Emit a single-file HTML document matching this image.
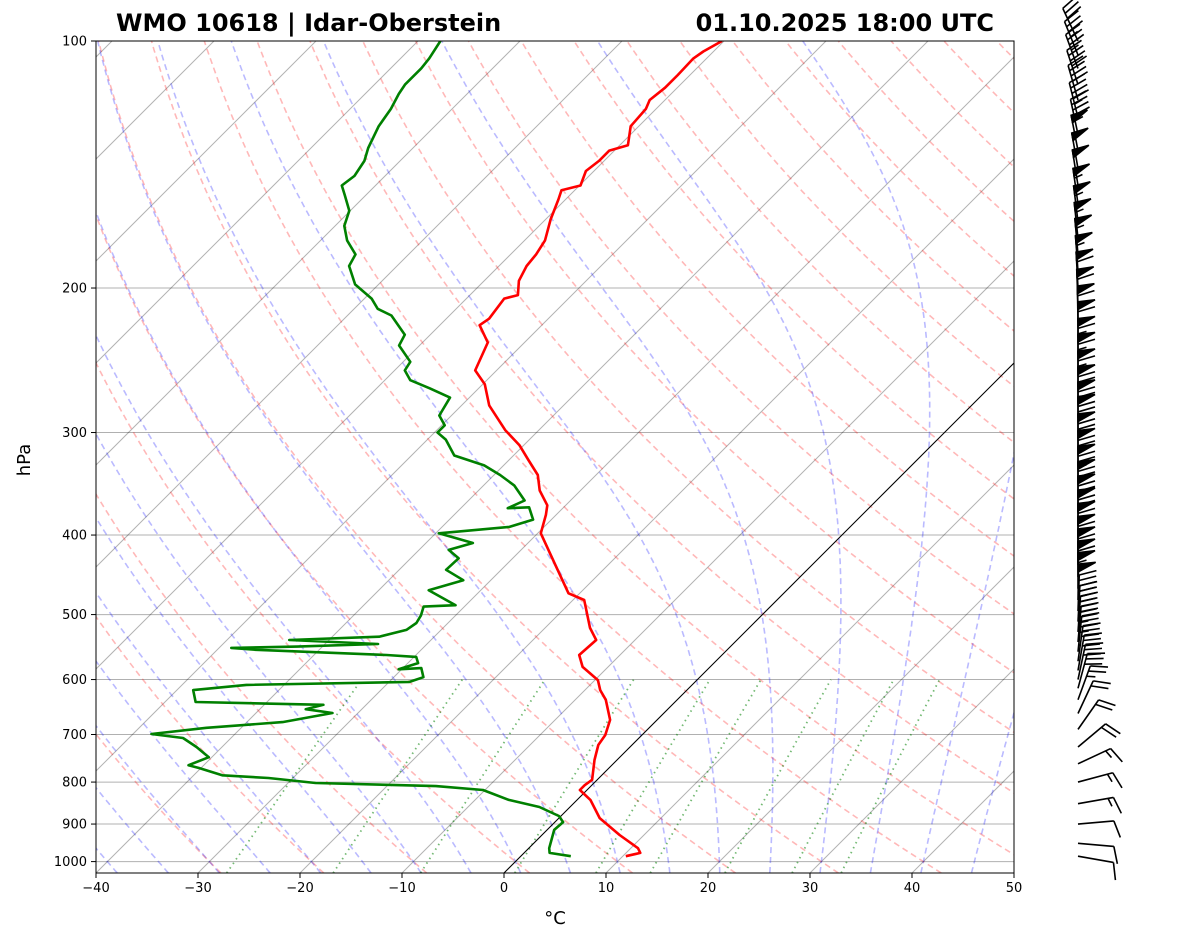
<!DOCTYPE html>
<html><head><meta charset="utf-8">
<style>
html,body{margin:0;padding:0;background:#fff;}
svg{display:block;font-family:"DejaVu Sans","Liberation Sans",sans-serif;}
</style></head>
<body>
<svg id="chart" width="1181" height="941" viewBox="0 0 1181 941" xmlns="http://www.w3.org/2000/svg">
<defs><clipPath id="plotclip"><rect x="96" y="41" width="918" height="832"/></clipPath></defs>
<rect width="1181" height="941" fill="#fff"/>
<text x="116" y="31" font-size="24" font-weight="bold">WMO 10618 | Idar-Oberstein</text>
<text x="994" y="31" font-size="24" font-weight="bold" text-anchor="end">01.10.2025 18:00 UTC</text>
<g id="bg" clip-path="url(#plotclip)"></g>
<g id="series" clip-path="url(#plotclip)"></g>
<rect x="96" y="41" width="918" height="832" fill="none" stroke="#000" stroke-width="1"/>
<g id="axes"></g>
<g id="barbs"></g>
<text x="0" y="0" font-size="18" text-anchor="middle" transform="translate(30,460) rotate(-90)">hPa</text>
<text x="555" y="924" font-size="18" text-anchor="middle">°C</text>
</svg>
<script>
const tempP=[985,976,963,928,885,841,818,807,795,752,721,701,672,635,618,601,579,560,537,519,480,471,433,398,378,368,353,338,324,311,298,278,262,252,233,222,218,206,204,196,188,182,175,165,156,152,150,144,140,136,134,127,121,118,114,110,105,103,100];
const tempT=[10.3,11.4,10.7,7.6,4.0,1.3,-0.7,-0.7,-0.5,-2.2,-3.3,-3.6,-4.6,-7.0,-8.5,-9.7,-12.5,-14.0,-13.8,-15.6,-18.9,-21.1,-25.4,-29.7,-31.0,-31.8,-34.0,-35.7,-38.1,-40.4,-43.3,-47.3,-49.8,-52.1,-53.6,-56.1,-55.8,-56.3,-55.3,-56.6,-57.3,-57.5,-58.0,-59.5,-60.7,-61.3,-59.9,-60.8,-60.5,-60.5,-59.2,-60.8,-61.0,-61.5,-61.2,-61.2,-61.3,-61.0,-60.2];
const dewP=[985,976,963,915,895,880,858,841,818,809,802,791,785,769,763,746,725,707,699,687,676,659,652,644,639,618,609,604,596,581,583,573,563,560,552,549,547,543,537,532,522,512,501,489,487,467,454,441,427,417,409,398,391,383,370,371,363,348,338,329,320,306,300,294,286,272,265,259,252,246,235,228,216,212,206,198,188,182,175,168,161,154,150,146,140,135,127,121,116,113,108,105,100];
const dewT=[4.9,2.5,2.0,0.7,0.8,-0.2,-3.0,-6.7,-10.2,-15.2,-27.3,-32.4,-37.2,-40.2,-41.5,-40.3,-42.5,-44.7,-48.2,-43.4,-36.5,-32.5,-35.5,-34.2,-47.0,-48.4,-43.7,-28.0,-27.1,-28.2,-30.3,-29.0,-29.8,-32.9,-46.2,-48.8,-42.5,-34.8,-43.9,-35.4,-33.4,-33.1,-33.4,-34.0,-31.0,-35.1,-32.7,-35.4,-35.3,-37.1,-35.4,-39.7,-33.4,-31.8,-33.4,-35.4,-34.5,-37.0,-39.4,-41.9,-45.8,-48.2,-49.7,-49.7,-51.2,-51.9,-54.8,-57.5,-59.0,-59.3,-62.0,-62.5,-65.7,-67.7,-69.3,-72.3,-74.7,-75.2,-77.4,-79.1,-80.1,-82.1,-83.3,-83.0,-83.5,-84.4,-85.5,-86.0,-86.7,-87.0,-87.0,-87.2,-87.8];
const pressureTicks=[100,200,300,400,500,600,700,800,900,1000];
const tempTicks=[-40,-30,-20,-10,0,10,20,30,40,50];
const isotherms=[-130,-120,-110,-100,-90,-80,-70,-60,-50,-40,-30,-20,-10,0,10,20,30,40,50];
const dryThetaK=[243.15,253.15,263.15,273.15,283.15,293.15,303.15,313.15,323.15,333.15,343.15,353.15,363.15,373.15,383.15,393.15,403.15,413.15,423.15,433.15,443.15,453.15,463.15];
const moistT0=[-50,-45,-40,-35,-30,-25,-20,-15,-10,-5,0,5,10,15,20,25,30,35,40,45];
const mixRatios=[0.0004,0.001,0.002,0.004,0.007,0.01,0.016,0.024,0.032];
const windP=[985,950,900,850,800,760,725,690,660,635,615,600,585,570,555,540,525,510,495,480,465,450,435,420,405,390,375,360,345,330,315,300,288,276,264,252,241,230,220,210,200,191,182,174,166,158,150,143,136,130,124,118,113,108,104,100];
const windSpd=[8,10,12,15,15,15,18,20,22,25,28,30,30,32,35,35,40,40,45,50,55,60,60,65,65,70,70,70,75,75,75,70,70,70,65,65,65,60,60,60,60,55,55,55,55,55,50,50,50,45,45,40,40,35,35,30];
const windDir=[100,95,85,80,75,65,50,35,25,20,15,12,10,8,6,5,4,3,2,1,0,0,0,0,0,0,0,0,0,0,0,0,0,0,0,0,0,0,359,358,357,356,355,354,353,352,351,350,349,348,346,344,342,340,338,335];

const NS='http://www.w3.org/2000/svg';
const Y0=41,YB=873,X0=96,XR=1014,PXD=820.6,PXT=10.2;
function yOf(p){return Y0+PXD*Math.log10(p/100);}
function xOf(T,p){return X0+(T+40)*PXT+(YB-yOf(p));}
const pBot=100*Math.pow(10,(YB-Y0)/PXD);
function mk(tag,attrs,parent){const e=document.createElementNS(NS,tag);for(const k in attrs)e.setAttribute(k,attrs[k]);parent.appendChild(e);return e;}
function pathFrom(ps,ts){let d='';for(let i=0;i<ps.length;i++){d+=(i?'L':'M')+xOf(ts[i],ps[i]).toFixed(1)+','+yOf(ps[i]).toFixed(1);}return d;}
const bg=document.getElementById('bg'),series=document.getElementById('series'),axes=document.getElementById('axes'),barbs=document.getElementById('barbs');

pressureTicks.forEach(p=>{const l=mk('line',{x1:X0,x2:XR,y1:yOf(p),y2:yOf(p),stroke:'#b0b0b0','stroke-width':1},bg);

});
isotherms.forEach(t=>{const l=mk('path',{d:pathFrom([pBot,100],[t,t]),stroke:'rgba(0,0,0,0.3)','stroke-width':1,fill:'none'},bg);

});
const pLevels=[];for(let p=pBot;p>=99;p-=10)pLevels.push(p);pLevels.push(100);
dryThetaK.forEach(th=>{const ts=pLevels.map(p=>th*Math.pow(p/1000,0.2857)-273.15);
const l=mk('path',{d:pathFrom(pLevels,ts),stroke:'rgba(255,0,0,0.28)','stroke-width':1.6,fill:'none','stroke-dasharray':'6,4'},bg);

});
function dTdp(p,T){const Tc=T-273.15;const es=6.112*Math.exp(17.67*Tc/(Tc+243.5));const rs=0.622*es/(p-es);
const Rd=287.04,Lv=2.501e6,Cp=1005.7;return (Rd*T+Lv*rs)/(Cp+Lv*Lv*rs*0.622/(Rd*T*T))/p;}
function integ(T0,pStart,pEnd,dp){const ps=[pStart],ts=[T0];let p=pStart,T=T0;const n=Math.ceil(Math.abs(pEnd-pStart)/Math.abs(dp));const h=(pEnd-pStart)/n;
for(let i=0;i<n;i++){const k1=dTdp(p,T);const k2=dTdp(p+h/2,T+k1*h/2);T+=k2*h;p+=h;ps.push(p);ts.push(T);}return [ps,ts];}
moistT0.forEach(t0=>{const up=integ(t0+273.15,1000,100,2);const dn=integ(t0+273.15,1000,pBot,2);
const ps=dn[0].slice().reverse().concat(up[0].slice(1));const ts=dn[1].slice().reverse().concat(up[1].slice(1)).map(t=>t-273.15);
const l=mk('path',{d:pathFrom(ps,ts),stroke:'rgba(0,0,255,0.27)','stroke-width':1.6,fill:'none','stroke-dasharray':'6,4'},bg);

});
const mrP=[];for(let p=pBot;p>=600;p-=10)mrP.push(p);mrP.push(600);
mixRatios.forEach(w=>{const ts=mrP.map(p=>{const e=w*p/(0.622+w);const a=Math.log(e/6.112);return 243.5*a/(17.67-a);});
const l=mk('path',{d:pathFrom(mrP,ts),stroke:'rgba(0,128,0,0.55)','stroke-width':1.8,fill:'none','stroke-dasharray':'1.5,4'},bg);

});
const z=mk('path',{d:pathFrom([pBot,100],[0,0]),stroke:'#000','stroke-width':1,fill:'none'},bg);



const tl=mk('path',{d:pathFrom(tempP,tempT),stroke:'#ff0000','stroke-width':2.6,fill:'none','stroke-linejoin':'round'},series);


const dl=mk('path',{d:pathFrom(dewP,dewT),stroke:'#008000','stroke-width':2.6,fill:'none','stroke-linejoin':'round'},series);



pressureTicks.forEach(p=>{const y=yOf(p);mk('line',{x1:X0-5,x2:X0,y1:y,y2:y,stroke:'#000'},axes);
const t=mk('text',{x:X0-9,y:y+4.5,'font-size':13,'text-anchor':'end'},axes);t.textContent=p;

});
tempTicks.forEach(v=>{const x=X0+(v+40)*PXT;mk('line',{x1:x,x2:x,y1:YB,y2:YB+5,stroke:'#000'},axes);
const t=mk('text',{x:x,y:YB+19,'font-size':13,'text-anchor':'middle'},axes);t.textContent=(v<0?'\u2212'+Math.abs(v):v);

});

const BX=1078,L=36;
windP.forEach((p,i)=>{const by=yOf(p);const a=windDir[i]*Math.PI/180;const dx=Math.sin(a),dy=-Math.cos(a);const px=-dy,py=dx;
const g=mk('g',{stroke:'#000','stroke-width':1.6,fill:'#000'},barbs);


const ex=BX+dx*L,ey=by+dy*L;mk('line',{x1:BX,y1:by,x2:ex,y2:ey},g);
let s=Math.round(windSpd[i]/5)*5;let pos=0;const step=5.5,bl=17;
while(s>=50){const ax=ex-dx*pos,ay=ey-dy*pos;const bx2=ex-dx*(pos+step*1.4),by2=ey-dy*(pos+step*1.4);
mk('polygon',{points:`${ax},${ay} ${ax+px*bl+dx*2},${ay+py*bl+dy*2} ${bx2},${by2}`},g);pos+=step*1.8;s-=50;}
while(s>=10){const ax=ex-dx*pos,ay=ey-dy*pos;mk('line',{x1:ax,y1:ay,x2:ax+px*bl+dx*5,y2:ay+py*bl+dy*5},g);pos+=step;s-=10;}
if(s>=5){if(pos===0)pos=step;const ax=ex-dx*pos,ay=ey-dy*pos;mk('line',{x1:ax,y1:ay,x2:ax+px*bl/2+dx*2.5,y2:ay+py*bl/2+dy*2.5},g);}
});
</script>
</body></html>
